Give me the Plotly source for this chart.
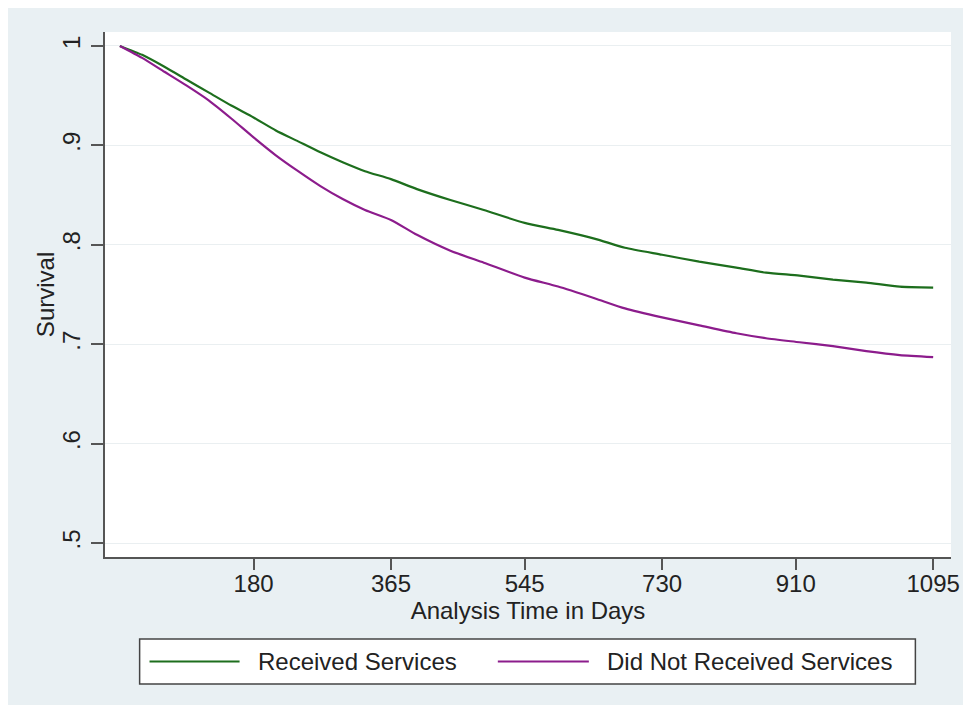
import plotly.graph_objects as go

# ---- data ----
series_names = ["Received Services", "Did Not Received Services"]

days = [0, 30, 60, 90, 120, 150, 180, 210, 240, 270, 300, 330, 365, 400, 445,
        490, 545, 590, 640, 680, 730, 780, 830, 870, 915, 960, 1005, 1050, 1095]

received = [1.000, 0.991, 0.979, 0.966, 0.953, 0.940, 0.928, 0.915, 0.904, 0.893,
            0.883, 0.874, 0.866, 0.856, 0.845, 0.835, 0.822, 0.815, 0.806, 0.797,
            0.790, 0.783, 0.777, 0.772, 0.769, 0.765, 0.762, 0.758, 0.757]

not_received = [1.000, 0.988, 0.974, 0.960, 0.945, 0.927, 0.908, 0.890, 0.874, 0.859,
                0.846, 0.835, 0.825, 0.810, 0.794, 0.782, 0.767, 0.758, 0.746, 0.736,
                0.727, 0.719, 0.711, 0.706, 0.702, 0.698, 0.693, 0.689, 0.687]

x_tickvals = [180, 365, 545, 730, 910, 1095]
y_tickvals = [0.5, 0.6, 0.7, 0.8, 0.9, 1.0]
y_ticktext = [".5", ".6", ".7", ".8", ".9", "1"]
x_title = "Analysis Time in Days"
y_title = "Survival"

colors = ["#1d6e1d", "#8c1c8c"]

# ---- layout geometry (page pixels; the page adds an 8px body margin) ----
OFF = 8
W, H = 971 - 2 * OFF, 713 - 2 * OFF
L, R, T, B = 105 - OFF, 960 - OFF, 32 - OFF, 557 - OFF
pw, ph = R - L, B - T


def px(x):
    return (x - OFF - L) / pw


def py(y):
    return (B - (y - OFF)) / ph


FONT = "Liberation Sans, Arial, sans-serif"
BG = "#e9f0f3"

fig = go.Figure()
for name, vals, col in zip(series_names, [received, not_received], colors):
    fig.add_trace(go.Scatter(x=days, y=vals, mode="lines", name=name,
                             line=dict(color=col, width=2.2, shape="spline", smoothing=0.6),
                             showlegend=False))

shapes = [
    # legend box
    dict(type="rect", xref="paper", yref="paper", x0=px(140), x1=px(924), y0=py(684), y1=py(639),
         fillcolor="white", line=dict(color="#444444", width=1.5), layer="above"),
]
annotations = [
    dict(text=y_title, xref="paper", yref="paper", x=px(45), y=py(294.5), textangle=-90,
         xanchor="center", yanchor="middle", showarrow=False,
         font=dict(family=FONT, size=24, color="#222222")),
]
leg_y = py(661.5)
for (lx0, lx1, tx), name, col in zip([(150, 241, 258), (502, 594, 610)], series_names, colors):
    shapes.append(dict(type="line", xref="paper", yref="paper", x0=px(lx0), x1=px(lx1),
                       y0=leg_y, y1=leg_y, line=dict(color=col, width=2.2)))
    annotations.append(dict(text=name, xref="paper", yref="paper", x=px(tx), y=leg_y,
                            xanchor="left", yanchor="middle", showarrow=False,
                            font=dict(family=FONT, size=24, color="#222222")))

fig.update_layout(
    width=W, height=H,
    margin=dict(l=L, r=W - R, t=T, b=H - B, pad=0),
    paper_bgcolor=BG,
    plot_bgcolor="white",
    font=dict(family=FONT, size=24, color="#222222"),
    shapes=shapes,
    annotations=annotations,
    showlegend=False,
)

fig.update_xaxes(
    range=[-20, 1119], tickvals=x_tickvals, ticks="outside", ticklen=11, tickwidth=1.5,
    tickcolor="#555555", showline=True, linecolor="#555555", linewidth=1.5,
    showgrid=False, zeroline=False, ticklabelstandoff=-7, ticklabeloverflow="allow",
    title=dict(text=x_title, standoff=0, font=dict(size=24)),
    tickfont=dict(size=24),
)
fig.update_yaxes(
    range=[0.486, 1.014], tickvals=y_tickvals, ticktext=y_ticktext, tickangle=-90,
    ticks="outside", ticklen=12, tickwidth=1.5, tickcolor="#555555",
    showline=True, linecolor="#555555", linewidth=1.5, ticklabelstandoff=2,
    showgrid=True, gridcolor="#eaeff1", gridwidth=1, zeroline=False,
    tickfont=dict(size=24),
)

fig.write_html("out.html")
